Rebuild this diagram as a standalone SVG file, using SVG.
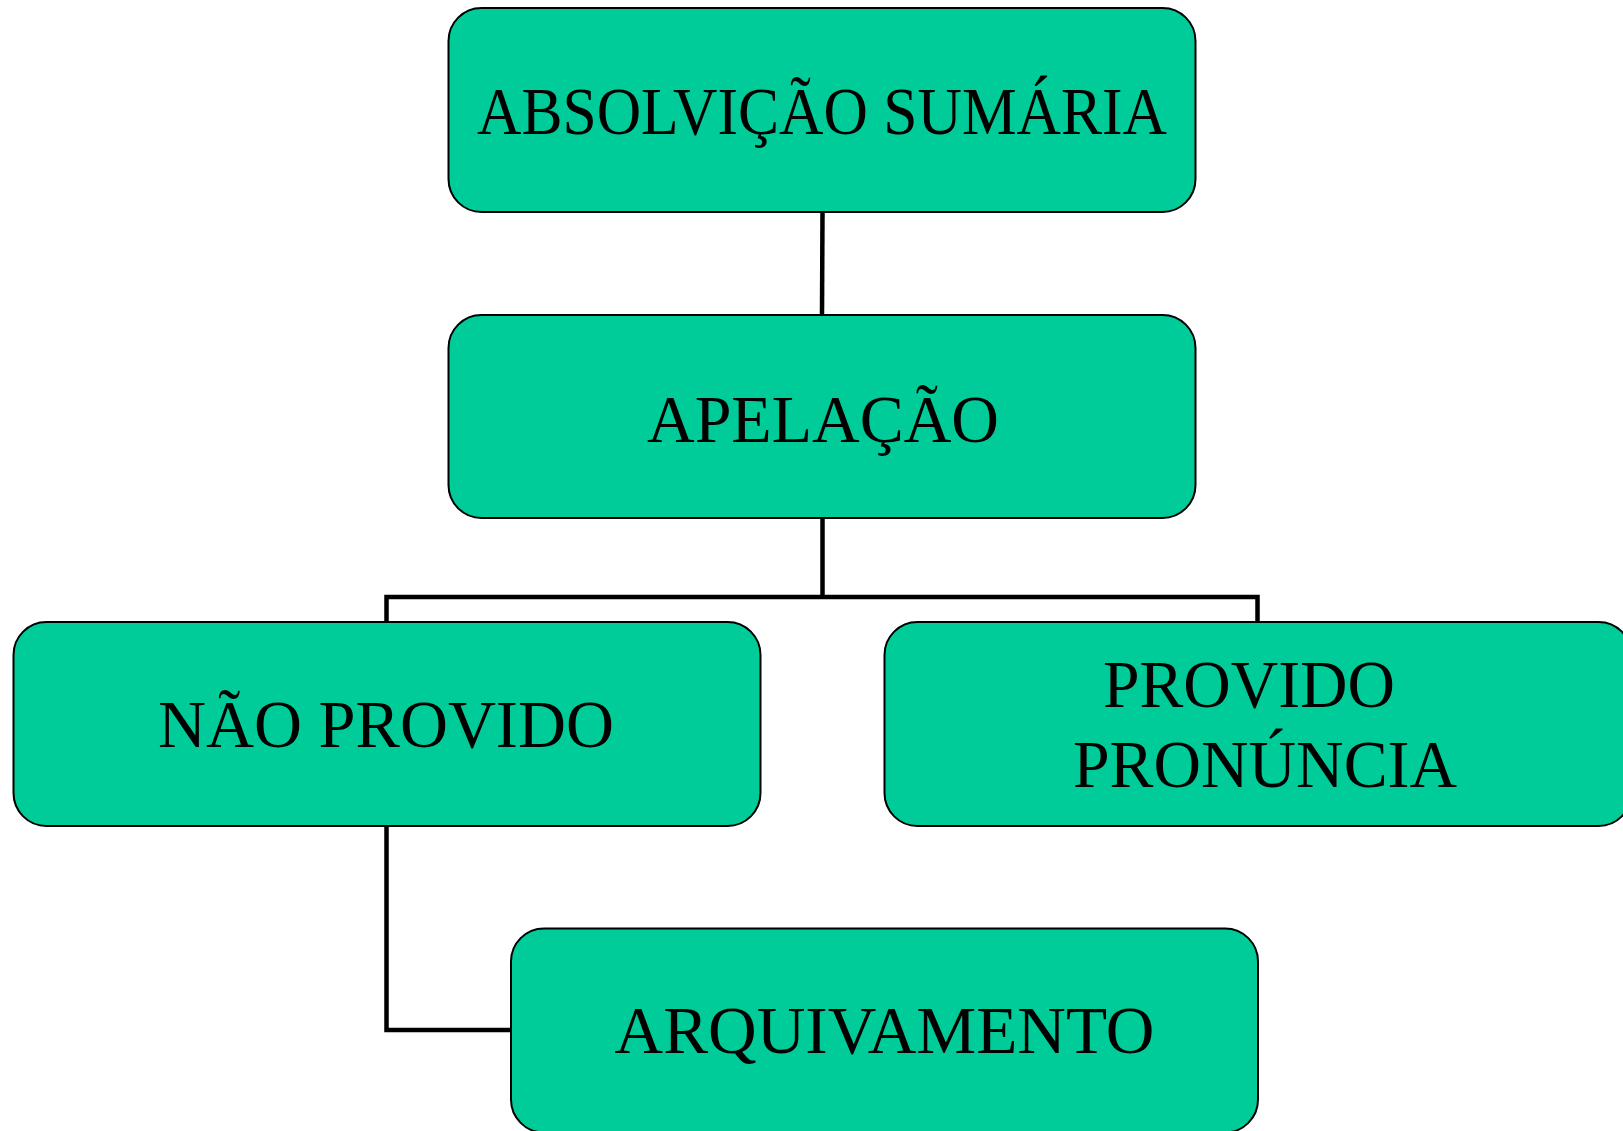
<svg xmlns="http://www.w3.org/2000/svg" width="1623" height="1131" viewBox="0 0 1623 1131">
<style>
.box{fill:#00CC99;stroke:#000;stroke-width:2}
.lbl{font-family:"Liberation Serif","Times New Roman",serif;font-size:67px;fill:#000;text-anchor:middle}
.con{fill:none;stroke:#000;stroke-width:4.5}
</style>
<rect width="1623" height="1131" fill="#fff"/>
<g id="connectors">
<path class="con" d="M822.5,212 L822,315"/>
<path class="con" d="M822.5,518 V597"/>
<path class="con" d="M386.5,622 V597 H1257.5 V622"/>
<path class="con" d="M386.5,826 V1030 H511"/>
</g>
<g id="absolvicao">
<rect class="box" x="448.5" y="8" width="747" height="204" rx="33" ry="33"/>
<text class="lbl" x="822" y="134" textLength="690" lengthAdjust="spacingAndGlyphs">ABSOLVIÇÃO SUMÁRIA</text>
</g>
<g id="apelacao">
<rect class="box" x="448.5" y="315" width="747" height="203" rx="33" ry="33"/>
<text class="lbl" x="823" y="441.5" textLength="352" lengthAdjust="spacingAndGlyphs">APELAÇÃO</text>
</g>
<g id="nao-provido">
<rect class="box" x="13.5" y="622" width="747" height="204" rx="33" ry="33"/>
<text class="lbl" x="386" y="746.5" textLength="456" lengthAdjust="spacingAndGlyphs">NÃO PROVIDO</text>
</g>
<g id="provido-pronuncia">
<rect class="box" x="884.5" y="622" width="747" height="204" rx="33" ry="33"/>
<text class="lbl" x="1249" y="707" textLength="292" lengthAdjust="spacingAndGlyphs">PROVIDO</text>
<text class="lbl" x="1265" y="787" textLength="384" lengthAdjust="spacingAndGlyphs">PRONÚNCIA</text>
</g>
<g id="arquivamento">
<rect class="box" x="511" y="928.5" width="747" height="204" rx="33" ry="33"/>
<text class="lbl" x="884.5" y="1053" textLength="540" lengthAdjust="spacingAndGlyphs">ARQUIVAMENTO</text>
</g>
</svg>
